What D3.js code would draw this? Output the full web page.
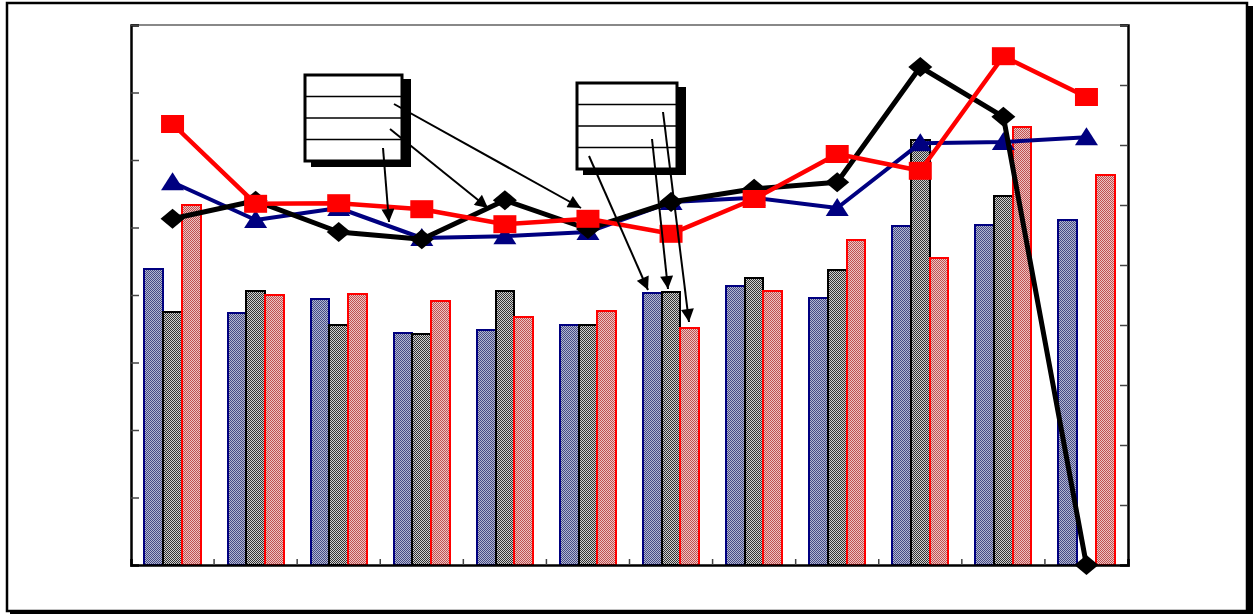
<!DOCTYPE html>
<html>
<head>
<meta charset="utf-8">
<script src="https://cdn.jsdelivr.net/npm/d3@7"></script>
<style>
  body { margin: 0; background: #fff; }
  svg { display: block; }
</style>
</head>
<body>
<div class="chart"></div>
<script>
var categories = ['1', '2', '3', '4', '5', '6', '7', '8', '9', '10', '11', '12'];

// bars, left axis (0 - 80)
var barBlue = [43.9, 37.3, 39.4, 34.4, 34.8, 35.6, 40.3, 41.3, 39.6, 50.2, 50.4, 51.1];
var barGrey = [37.5, 40.6, 35.6, 34.2, 40.6, 35.6, 40.4, 42.5, 43.7, 63.0, 54.7, 0];
var barRed = [53.3, 40.0, 40.1, 39.1, 36.7, 37.6, 35.1, 40.6, 48.1, 45.5, 64.9, 57.8];

// lines, right axis (0 - 90)
var lineBlue = [63.8, 57.5, 59.5, 54.5, 54.8, 55.5, 60.5, 61.2, 59.5, 70.3, 70.5, 71.3];
var lineBlack = [57.7, 60.7, 55.5, 54.3, 60.8, 56.0, 60.5, 62.7, 63.8, 83.0, 74.7, 0];
var lineRed = [73.5, 60.2, 60.3, 59.3, 56.8, 57.7, 55.2, 61.0, 68.5, 65.7, 84.8, 78.0];

var leftTicks = [0, 10, 20, 30, 40, 50, 60, 70, 80];
var rightTicks = [0, 10, 20, 30, 40, 50, 60, 70, 80, 90];

var width = 1258;
var height = 614;
var plot = {left: 131, right: 1128, top: 25, bottom: 565};

var svg = d3.select('.chart').append('svg')
  .attr('width', width)
  .attr('height', height);

var defs = svg.append('defs');

var makeChecker = function (id, a, b) {
  var p = defs.append('pattern')
    .attr('id', id)
    .attr('patternUnits', 'userSpaceOnUse')
    .attr('width', 2)
    .attr('height', 2);
  p.append('rect').attr('width', 2).attr('height', 2).attr('fill', b);
  p.append('rect').attr('width', 1).attr('height', 1).attr('fill', a);
  p.append('rect').attr('x', 1).attr('y', 1).attr('width', 1).attr('height', 1).attr('fill', a);
};
makeChecker('chkBlue', '#454a85', '#b4b8d0');
makeChecker('chkGrey', '#333', '#d0d0d0');
makeChecker('chkRed', '#c05050', '#ecc4c4');

defs.append('marker')
  .attr('id', 'arrow')
  .attr('viewBox', '0 0 10 10')
  .attr('refX', 10)
  .attr('refY', 5)
  .attr('markerUnits', 'userSpaceOnUse')
  .attr('markerWidth', 15)
  .attr('markerHeight', 13)
  .attr('orient', 'auto')
  .append('path')
  .attr('d', 'M0,0L10,5L0,10Z')
  .attr('fill', '#000');

// outer frame with shadow
svg.append('rect')
  .attr('x', 1247).attr('y', 6).attr('width', 6).attr('height', 608)
  .attr('fill', '#000');
svg.append('rect')
  .attr('x', 10).attr('y', 610).attr('width', 1243).attr('height', 4)
  .attr('fill', '#000');
svg.append('rect')
  .attr('x', 7).attr('y', 3).attr('width', 1240).attr('height', 608)
  .attr('fill', '#fff')
  .attr('stroke', '#000')
  .attr('stroke-width', 2.5);

// scales
var x0 = d3.scaleBand()
  .domain(categories)
  .range([plot.left, plot.right])
  .paddingInner(0)
  .paddingOuter(0);

var series = ['blue', 'grey', 'red'];
var x1 = d3.scaleBand()
  .domain(series)
  .range([0, x0.bandwidth()])
  .paddingInner(0)
  .paddingOuter(0.72);

var yLeft = d3.scaleLinear().domain([0, 80]).range([plot.bottom, plot.top]);
var yRight = d3.scaleLinear().domain([0, 90]).range([plot.bottom, plot.top]);

// top border of plot area
svg.append('line')
  .attr('x1', plot.left).attr('x2', plot.right)
  .attr('y1', plot.top).attr('y2', plot.top)
  .attr('stroke', '#888')
  .attr('stroke-width', 2);

// bars
var barSeries = [
  {key: 'blue', values: barBlue, fill: 'url(#chkBlue)', stroke: '#000080'},
  {key: 'grey', values: barGrey, fill: 'url(#chkGrey)', stroke: '#000'},
  {key: 'red', values: barRed, fill: 'url(#chkRed)', stroke: '#ff0000'}
];

barSeries.forEach(function (s) {
  svg.append('g')
    .selectAll('rect')
    .data(s.values.map(function (v, i) { return {cat: categories[i], v: v}; })
      .filter(function (d) { return d.v > 0; }))
    .enter()
    .append('rect')
    .attr('x', function (d) { return x0(d.cat) + x1(s.key); })
    .attr('y', function (d) { return yLeft(d.v); })
    .attr('width', x1.bandwidth())
    .attr('height', function (d) { return yLeft(0) - yLeft(d.v); })
    .attr('fill', s.fill)
    .attr('stroke', s.stroke)
    .attr('stroke-width', 2)
    .attr('shape-rendering', 'crispEdges');
});

// axes
var leftAxis = d3.axisLeft(yLeft).tickValues(leftTicks).tickSize(-8).tickFormat('');
var rightAxis = d3.axisRight(yRight).tickValues(rightTicks).tickSize(-8).tickFormat('');
var bottomAxis = d3.axisBottom(x0).tickSize(-6).tickFormat('');

var gLeft = svg.append('g').attr('transform', 'translate(' + plot.left + ',0)').call(leftAxis);
var gRight = svg.append('g').attr('transform', 'translate(' + plot.right + ',0)').call(rightAxis);
var gBottom = svg.append('g').attr('transform', 'translate(0,' + plot.bottom + ')').call(bottomAxis);

// category boundaries instead of centres on the bottom axis
gBottom.selectAll('.tick').remove();
gBottom.selectAll('.sep')
  .data(categories.slice(1))
  .enter()
  .append('line')
  .attr('x1', function (d) { return x0(d); })
  .attr('x2', function (d) { return x0(d); })
  .attr('y1', 0)
  .attr('y2', -6)
  .attr('stroke', '#444')
  .attr('stroke-width', 1.5);

[gLeft, gRight, gBottom].forEach(function (g) {
  g.select('.domain').attr('stroke', '#000').attr('stroke-width', 2.5);
  g.selectAll('.tick line').attr('stroke', '#444').attr('stroke-width', 1.5);
});

// lines
var cx = function (i) { return x0(categories[i]) + x0.bandwidth() / 2; };

var markerPaths = {
  triangle: 'M0,-10L11.5,8L-11.5,8Z',
  square: 'M-11.5,-9L11.5,-9L11.5,9L-11.5,9Z',
  diamond: 'M0,-10L12,0L0,10L-12,0Z'
};

var lineSeries = [
  {values: lineBlue, color: '#000080', width: 4, marker: 'triangle'},
  {values: lineBlack, color: '#000', width: 5, marker: 'diamond'},
  {values: lineRed, color: '#ff0000', width: 4.5, marker: 'square'}
];

lineSeries.forEach(function (s) {
  var line = d3.line()
    .x(function (d, i) { return cx(i); })
    .y(function (d) { return yRight(d); });

  var g = svg.append('g');
  g.append('path')
    .datum(s.values)
    .attr('d', line)
    .attr('fill', 'none')
    .attr('stroke', s.color)
    .attr('stroke-width', s.width)
    .attr('stroke-linejoin', 'round');

  g.selectAll('path.pt')
    .data(s.values)
    .enter()
    .append('path')
    .attr('class', 'pt')
    .attr('d', markerPaths[s.marker])
    .attr('transform', function (d, i) { return 'translate(' + cx(i) + ',' + yRight(d) + ')'; })
    .attr('fill', s.color);
});

// annotation boxes with callout arrows
var boxes = [
  {x: 305, y: 75, w: 97, h: 86,
   arrows: [[394, 104, 581, 208], [390, 129, 488, 208], [383, 148, 389, 222]]},
  {x: 577, y: 83, w: 100, h: 86,
   arrows: [[589, 156, 648, 290], [652, 139, 668, 289], [663, 112, 689, 322]]}
];

boxes.forEach(function (b) {
  var g = svg.append('g');
  g.append('rect')
    .attr('x', b.x + 6).attr('y', b.y + 4)
    .attr('width', b.w + 3).attr('height', b.h + 2)
    .attr('fill', '#000');
  g.append('rect')
    .attr('x', b.x).attr('y', b.y)
    .attr('width', b.w).attr('height', b.h)
    .attr('fill', '#fff')
    .attr('stroke', '#000')
    .attr('stroke-width', 3);
  [1, 2, 3].forEach(function (k) {
    var yy = b.y + k * b.h / 4;
    g.append('line')
      .attr('x1', b.x).attr('x2', b.x + b.w)
      .attr('y1', yy).attr('y2', yy)
      .attr('stroke', '#000')
      .attr('stroke-width', 1.5);
  });
  g.selectAll('line.arrow')
    .data(b.arrows)
    .enter()
    .append('line')
    .attr('class', 'arrow')
    .attr('x1', function (d) { return d[0]; })
    .attr('y1', function (d) { return d[1]; })
    .attr('x2', function (d) { return d[2]; })
    .attr('y2', function (d) { return d[3]; })
    .attr('stroke', '#000')
    .attr('stroke-width', 2)
    .attr('marker-end', 'url(#arrow)');
});
</script>
</body>
</html>
